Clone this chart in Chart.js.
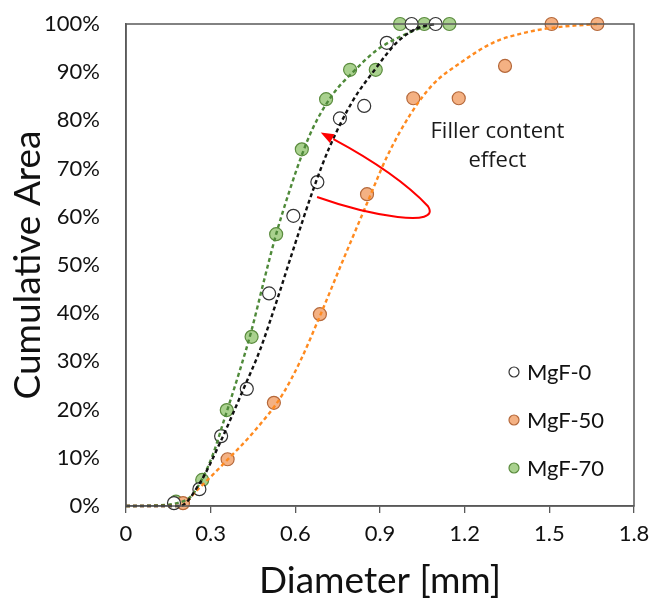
<!DOCTYPE html>
<html>
<head>
<meta charset="utf-8">
<script src="https://cdn.jsdelivr.net/npm/chart.js@4.4.1/dist/chart.umd.min.js"></script>
<style>
    html, body { margin: 0; padding: 0; background: #fff; }
    #wrap { width: 654px; height: 598px; }
</style>
</head>
<body>
<div id="wrap"><canvas id="chart" width="654" height="598"></canvas></div>
<script>
// measured points (diameter in mm, cumulative area in %)
const mgf0X = [0.170, 0.260, 0.337, 0.428, 0.507, 0.593, 0.678, 0.758, 0.844, 0.924, 1.012, 1.097];
const mgf0Y = [0.6, 3.5, 14.5, 24.3, 44.1, 60.2, 67.2, 80.4, 83.0, 96.1, 100, 100];

const mgf50X = [0.202, 0.360, 0.524, 0.687, 0.854, 1.018, 1.179, 1.343, 1.508, 1.670];
const mgf50Y = [0.6, 9.7, 21.4, 39.8, 64.7, 84.6, 84.6, 91.3, 100, 100];

const mgf70X = [0.177, 0.270, 0.357, 0.445, 0.532, 0.623, 0.709, 0.794, 0.885, 0.971, 1.057, 1.146];
const mgf70Y = [0.9, 5.4, 19.9, 35.1, 56.4, 74.0, 84.4, 90.5, 90.5, 100, 100, 100];

// fitted curves
const fit0X = [0, 0.1, 0.19, 0.262, 0.333, 0.415, 0.475, 0.535, 0.592, 0.663, 0.72, 0.804, 0.885, 0.924, 0.96, 1.006, 1.05, 1.10];
const fit0Y = [0, 0, 0, 4.8, 13.1, 24.1, 32.4, 42.7, 53.1, 65.6, 74.3, 84.1, 90.8, 93.8, 96.2, 98.3, 99.5, 100];

const fit50X = [0, 0.1, 0.191, 0.252, 0.358, 0.450, 0.553, 0.617, 0.687, 0.769, 0.854, 0.925, 1.006, 1.088, 1.184, 1.300, 1.421, 1.538, 1.669];
const fit50Y = [0, 0, 0, 3.3, 9.5, 15.2, 23.0, 30.0, 39.4, 51.0, 62.8, 72.5, 81.1, 87.5, 91.9, 96.1, 98.3, 99.4, 100];

const fit70X = [0, 0.1, 0.181, 0.23, 0.273, 0.31, 0.344, 0.40, 0.445, 0.49, 0.532, 0.58, 0.623, 0.663, 0.734, 0.804, 0.889, 1.006, 1.077];
const fit70Y = [0, 0.1, 0.6, 2.0, 6.0, 11.0, 17.2, 27.5, 36.5, 47.0, 56.4, 65.5, 72.8, 78.5, 85.5, 90.0, 94.6, 98.3, 99.8];

const xTicks = [0, 0.3, 0.6, 0.9, 1.2, 1.5, 1.8];
const yTicks = [0, 10, 20, 30, 40, 50, 60, 70, 80, 90, 100];

const seriesNames = ["MgF-0", "MgF-50", "MgF-70"];
const noteLines = ["Filler content", "effect"];

const fills = ["#ffffff", "#f4b183", "#a9d18e"];
const edges = ["#333333", "#b5683a", "#5b8c3e"];
const curveColors = ["#111111", "#ff8a1f", "#4f8a3a"];

function pts(xs, ys) {
    return xs.map((x, i) => ({ x: x, y: ys[i] }));
}

function markerSet(label, xs, ys, i) {
    return {
        label: label,
        data: pts(xs, ys),
        showLine: false,
        pointRadius: 6.5,
        pointBorderWidth: 1.2,
        pointBackgroundColor: fills[i],
        pointBorderColor: edges[i],
        order: 2,
        clip: false,
    };
}

function curveSet(xs, ys, i) {
    return {
        label: "fit",
        data: pts(xs, ys),
        showLine: true,
        pointRadius: 0,
        borderColor: curveColors[i],
        borderWidth: 2.4,
        borderDash: [4, 3],
        cubicInterpolationMode: "monotone",
        order: 1,
        clip: false,
    };
}

// box, legend, red arrow loop and the note
const extras = {
    id: "extras",
    afterDatasetsDraw(chart) {
        const { ctx, chartArea: a, scales } = chart;
        const px = (v) => scales.x.getPixelForValue(v);
        const py = (v) => scales.y.getPixelForValue(v);

        ctx.save();
        ctx.strokeStyle = "#595959";
        ctx.lineWidth = 1.5;
        ctx.strokeRect(a.left, a.top, a.right - a.left, a.bottom - a.top);

        // red loop with arrow head
        ctx.strokeStyle = "#ff0000";
        ctx.lineWidth = 2;
        ctx.beginPath();
        ctx.moveTo(px(0.677), py(64.1));
        ctx.bezierCurveTo(px(0.865), py(60.2), px(1.12), py(57.6), px(1.07), py(62.2));
        ctx.quadraticCurveTo(px(0.96), py(69.0), px(0.735), py(76.1));
        ctx.stroke();
        const tx = px(0.69), ty = py(77.5);
        const ang = Math.atan2(ty - py(76.1), tx - px(0.735));
        ctx.fillStyle = "#ff0000";
        ctx.beginPath();
        ctx.moveTo(tx, ty);
        ctx.lineTo(tx - 13 * Math.cos(ang) + 5 * Math.sin(ang), ty - 13 * Math.sin(ang) - 5 * Math.cos(ang));
        ctx.lineTo(tx - 13 * Math.cos(ang) - 5 * Math.sin(ang), ty - 13 * Math.sin(ang) + 5 * Math.cos(ang));
        ctx.closePath();
        ctx.fill();

        ctx.fillStyle = "#1a1a1a";
        ctx.font = "22px 'Open Sans'";
        ctx.textAlign = "center";
        ctx.textBaseline = "middle";
        ctx.fillText(noteLines[0], px(1.316), py(77.6));
        ctx.fillText(noteLines[1], px(1.316), py(71.6));

        // legend
        ctx.font = "22px Lato";
        ctx.textAlign = "left";
        seriesNames.forEach((name, i) => {
            const y = a.bottom - 134 + i * 48;
            const x = a.right - 120;
            ctx.beginPath();
            ctx.arc(x, y, 5, 0, Math.PI * 2);
            ctx.fillStyle = fills[i];
            ctx.fill();
            ctx.lineWidth = 1.2;
            ctx.strokeStyle = edges[i];
            ctx.stroke();
            ctx.fillStyle = "#111";
            ctx.fillText(name, x + 13, y + 1);
        });
        ctx.restore();
    },
};

new Chart(document.getElementById("chart"), {
    type: "scatter",
    data: {
        datasets: [
            markerSet(seriesNames[0], mgf0X, mgf0Y, 0),
            markerSet(seriesNames[1], mgf50X, mgf50Y, 1),
            markerSet(seriesNames[2], mgf70X, mgf70Y, 2),
            curveSet(fit0X, fit0Y, 0),
            curveSet(fit50X, fit50Y, 1),
            curveSet(fit70X, fit70Y, 2),
        ],
    },
    options: {
        responsive: false,
        animation: false,
        layout: { padding: { top: 24, right: 20, left: 0, bottom: 0 } },
        plugins: {
            legend: { display: false },
            tooltip: { enabled: false },
        },
        scales: {
            x: {
                type: "linear",
                min: 0,
                max: 1.8,
                afterBuildTicks: (s) => { s.ticks = xTicks.map((v) => ({ value: v })); },
                afterFit: (s) => {
                    s.height = 92;
                    s.paddingLeft = 0;
                    s.paddingRight = 0;
                },
                ticks: {
                    color: "#111",
                    font: { family: "Lato", size: 22 },
                    padding: 8,
                    callback: (v) => (v === 0 ? "0" : v.toFixed(1)),
                },
                grid: { drawOnChartArea: false, tickLength: 7, color: "#595959", lineWidth: 1.3 },
                border: { color: "#595959", width: 1.5 },
                title: {
                    display: true,
                    text: "Diameter [mm]",
                    color: "#111",
                    font: { family: "Lato", size: 37 },
                    padding: { top: 0, bottom: -5 },
                },
            },
            y: {
                type: "linear",
                min: 0,
                max: 100,
                afterBuildTicks: (s) => { s.ticks = yTicks.map((v) => ({ value: v })); },
                afterFit: (s) => {
                    s.width = 126;
                    s.paddingTop = 0;
                    s.paddingBottom = 0;
                },
                ticks: {
                    color: "#111",
                    font: { family: "Lato", size: 22 },
                    padding: 26,
                    callback: (v) => v + "%",
                },
                grid: { drawOnChartArea: false, drawTicks: false },
                border: { color: "#595959", width: 1.5 },
                title: {
                    display: true,
                    text: "Cumulative Area",
                    color: "#111",
                    font: { family: "Lato", size: 37 },
                    padding: { top: 6, bottom: 0 },
                },
            },
        },
    },
    plugins: [extras],
});
</script>
</body>
</html>
